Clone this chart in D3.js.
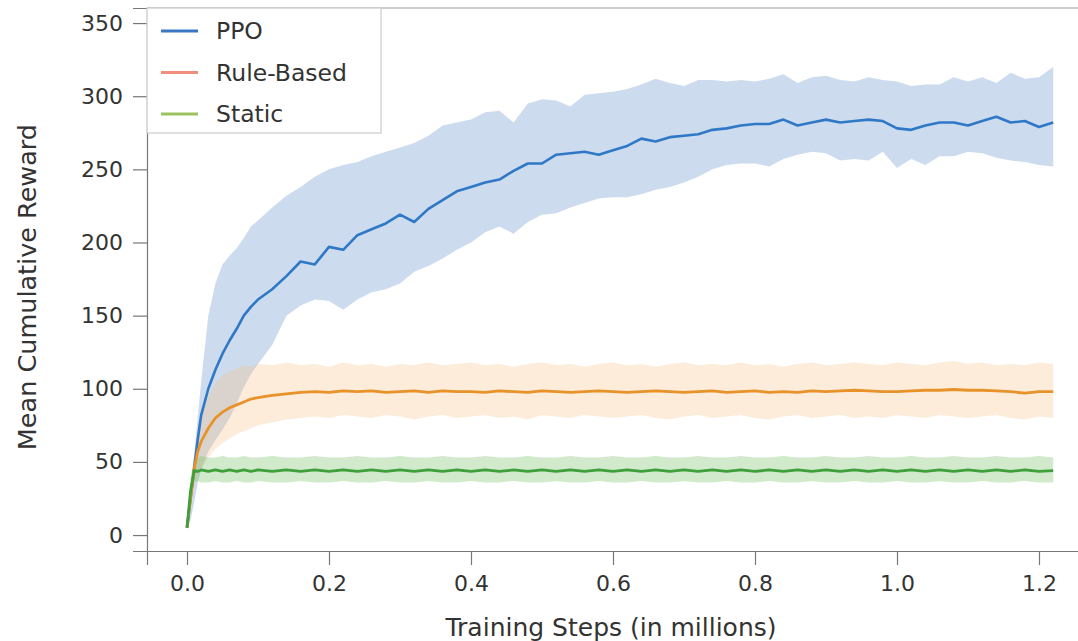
<!DOCTYPE html>
<html>
<head>
<meta charset="utf-8">
<script src="https://cdn.jsdelivr.net/npm/d3@7"></script>
<style>
  body { margin: 0; background: #fff; }
  svg { display: block; font-family: "DejaVu Sans", sans-serif; }
</style>
</head>
<body>
<svg id="chart" width="1078" height="641"></svg>
<script>
// training steps (millions)
const steps = [0, 0.005, 0.01, 0.015, 0.02, 0.03, 0.04, 0.05, 0.06, 0.07, 0.08, 0.09, 0.10,
  0.12, 0.14, 0.16, 0.18, 0.20, 0.22, 0.24, 0.26, 0.28, 0.30, 0.32, 0.34, 0.36, 0.38, 0.40,
  0.42, 0.44, 0.46, 0.48, 0.50, 0.52, 0.54, 0.56, 0.58, 0.60, 0.62, 0.64, 0.66, 0.68, 0.70,
  0.72, 0.74, 0.76, 0.78, 0.80, 0.82, 0.84, 0.86, 0.88, 0.90, 0.92, 0.94, 0.96, 0.98, 1.00,
  1.02, 1.04, 1.06, 1.08, 1.10, 1.12, 1.14, 1.16, 1.18, 1.20, 1.22];

const ppoMean = [5, 25, 45, 65, 82, 100, 113, 124, 133, 141, 150, 156, 161,
  168, 177, 187, 185, 197, 195, 205, 209, 213, 219, 214, 223, 229, 235, 238,
  241, 243, 249, 254, 254, 260, 261, 262, 260, 263, 266, 271, 269, 272, 273,
  274, 277, 278, 280, 281, 281, 284, 280, 282, 284, 282, 283, 284, 283, 278,
  277, 280, 282, 282, 280, 283, 286, 282, 283, 279, 282];
const ppoHigh = [6, 30, 55, 80, 105, 150, 172, 185, 191, 196, 203, 211, 215,
  224, 232, 238, 245, 250, 253, 255, 259, 262, 265, 268, 273, 280, 282, 284,
  289, 290, 282, 295, 298, 297, 293, 301, 302, 303, 305, 308, 312, 309, 307,
  311, 311, 310, 311, 310, 312, 315, 309, 313, 314, 311, 310, 313, 311, 310,
  307, 308, 308, 313, 310, 313, 309, 316, 312, 313, 320];
const ppoLow = [4, 10, 22, 35, 45, 57, 65, 72, 80, 90, 101, 110, 117,
  130, 150, 157, 161, 160, 154, 161, 166, 168, 172, 180, 184, 189, 195, 200,
  207, 211, 206, 214, 219, 220, 224, 227, 230, 231, 231, 233, 236, 238, 241,
  245, 250, 253, 254, 254, 252, 257, 260, 262, 261, 256, 257, 256, 262, 251,
  257, 253, 259, 259, 262, 261, 258, 256, 255, 253, 252];

const ruleMean = [5, 25, 45, 57, 64, 73, 80, 84, 87, 89, 91, 93, 94,
  95.5, 96.5, 97.5, 98, 97.5, 98.5, 98, 98.5, 97.5, 98, 98.5, 97.5, 98.5, 98, 98,
  97.5, 98.5, 98, 97.5, 98.5, 98, 97.5, 98, 98.5, 98, 97.5, 98, 98.5, 98, 97.5,
  98, 98.5, 97.5, 98, 98.5, 97.5, 98, 97.5, 98.5, 98, 98.5, 99, 98.5, 98, 98,
  98.5, 99, 99, 99.5, 99, 99, 98.5, 98, 97, 98, 98];
const ruleHigh = [6, 30, 55, 70, 82, 95, 104, 109, 112, 114, 116, 115, 117,
  116, 118, 116, 117, 115, 118, 116, 117, 115, 117, 116, 118, 116, 117, 118,
  116, 117, 115, 117, 118, 116, 117, 115, 117, 118, 116, 117, 115, 117, 118,
  116, 117, 116, 118, 116, 117, 115, 117, 118, 116, 117, 118, 117, 116, 118,
  117, 116, 118, 119, 117, 118, 116, 117, 116, 118, 117];
const ruleLow = [4, 18, 32, 40, 45, 53, 59, 63, 66, 69, 71, 73, 75,
  77, 79, 80, 81, 80, 82, 81, 80, 82, 81, 79, 81, 82, 80, 81,
  82, 80, 81, 79, 82, 81, 80, 82, 81, 80, 81, 82, 80, 79, 81,
  82, 80, 81, 82, 80, 79, 81, 82, 80, 81, 82, 80, 81, 80, 82,
  81, 80, 82, 81, 80, 81, 82, 80, 79, 81, 80];

const staticMean = [5, 30, 44, 43.5, 44.5, 43.5, 44.5, 43.5, 44.5, 43.5, 44.5, 43.5, 44.5,
  43.5, 44.5, 43.5, 44.5, 43.5, 44.5, 43.5, 44.5, 43.5, 44.5, 43.5, 44.5, 43.5, 44.5, 43.5,
  44.5, 43.5, 44.5, 43.5, 44.5, 43.5, 44.5, 43.5, 44.5, 43.5, 44.5, 43.5, 44.5, 43.5, 44.5,
  43.5, 44.5, 43.5, 44.5, 43.5, 44.5, 43.5, 44.5, 43.5, 44.5, 43.5, 44.5, 43.5, 44.5, 43.5,
  44.5, 43.5, 44.5, 43.5, 44.5, 43.5, 44.5, 43.5, 44.5, 43.5, 44];
const staticHigh = [6, 40, 53, 53, 54, 53, 53, 54, 53, 53, 54, 53, 53,
  54, 53, 53, 54, 53, 53, 54, 53, 53, 54, 53, 53, 54, 53, 53,
  54, 53, 53, 54, 53, 53, 54, 53, 53, 54, 53, 53, 54, 53, 53,
  54, 53, 53, 54, 53, 53, 54, 53, 53, 54, 53, 53, 54, 53, 53,
  54, 53, 53, 54, 53, 53, 54, 53, 53, 54, 53];
const staticLow = [4, 22, 36, 37, 36, 36, 37, 36, 36, 37, 36, 36, 37,
  36, 36, 37, 36, 36, 37, 36, 36, 37, 36, 36, 37, 36, 36, 37,
  36, 36, 37, 36, 36, 37, 36, 36, 37, 36, 36, 37, 36, 36, 37,
  36, 36, 37, 36, 36, 37, 36, 36, 37, 36, 36, 37, 36, 36, 37,
  36, 36, 37, 36, 36, 37, 36, 36, 37, 36, 36];

const xTicks = [0, 0.2, 0.4, 0.6, 0.8, 1.0, 1.2];
const yTicks = [0, 50, 100, 150, 200, 250, 300, 350];

const series = [
  { name: "PPO", mean: ppoMean, low: ppoLow, high: ppoHigh, line: "#2f78c6", width: 2.6, band: "#8fb0d9", bandOp: 0.45, legend: "#3b78c4" },
  { name: "Rule-Based", mean: ruleMean, low: ruleLow, high: ruleHigh, line: "#e8922a", width: 2.8, band: "#f9c48a", bandOp: 0.32, legend: "#f08e7e" },
  { name: "Static", mean: staticMean, low: staticLow, high: staticHigh, line: "#3f9f3a", width: 2.8, band: "#7cc46e", bandOp: 0.36, legend: "#9cc25f" }
];

const svg = d3.select("#chart");
const plotLeft = 147, plotTop = 8, plotBottom = 551, plotRight = 1093;

const x = d3.scaleLinear().domain([-0.05634, 1.27606]).range([plotLeft, plotRight]);
const y = d3.scaleLinear().domain([-10.9, 360.3]).range([plotBottom, plotTop]);

const plot = svg.append("g");

// bands
series.forEach(s => {
  const area = d3.area()
    .x((d, i) => x(steps[i]))
    .y0((d, i) => y(s.low[i]))
    .y1((d, i) => y(s.high[i]));
  plot.append("path")
    .attr("d", area(steps))
    .attr("fill", s.band)
    .attr("fill-opacity", s.bandOp)
    .attr("stroke", "none");
});

// mean lines
series.forEach(s => {
  const line = d3.line()
    .x((d, i) => x(steps[i]))
    .y((d, i) => y(s.mean[i]));
  plot.append("path")
    .attr("d", line(steps))
    .attr("fill", "none")
    .attr("stroke", s.line)
    .attr("stroke-width", s.width)
    .attr("stroke-linejoin", "round");
});

// axes
const xAxis = svg.append("g")
  .attr("transform", `translate(0,${plotBottom})`)
  .call(d3.axisBottom(x).tickValues(xTicks).tickFormat(d3.format(".1f")).tickSize(14).tickPadding(10));
const yAxis = svg.append("g")
  .attr("transform", `translate(${plotLeft},0)`)
  .call(d3.axisLeft(y).tickValues(yTicks).tickSize(14).tickPadding(10));

[xAxis, yAxis].forEach(g => {
  g.select(".domain").attr("stroke", "#777").attr("stroke-width", 1.2);
  g.selectAll(".tick line").attr("stroke", "#777").attr("stroke-width", 1.2);
  g.selectAll(".tick text").attr("fill", "#333").style("font-size", "22px").style("font-family", "DejaVu Sans");
});

// top spine
svg.append("line")
  .attr("x1", plotLeft).attr("x2", plotRight)
  .attr("y1", plotTop).attr("y2", plotTop)
  .attr("stroke", "#999").attr("stroke-width", 1.2);

// axis titles
svg.append("text")
  .attr("x", 611)
  .attr("y", 636)
  .attr("text-anchor", "middle")
  .attr("fill", "#333")
  .style("font-size", "25px")
  .text("Training Steps (in millions)");

svg.append("text")
  .attr("transform", `translate(36,${(y(0) + y(350)) / 2 + 8}) rotate(-90)`)
  .attr("text-anchor", "middle")
  .attr("fill", "#333")
  .style("font-size", "25.5px")
  .text("Mean Cumulative Reward");

// legend
const legend = svg.append("g");
legend.append("rect")
  .attr("x", plotLeft).attr("y", plotTop)
  .attr("width", 234).attr("height", 125)
  .attr("fill", "#fff").attr("fill-opacity", 0.92)
  .attr("stroke", "#ccc").attr("stroke-width", 1.2);

series.forEach((s, i) => {
  const ly = 31 + i * 41.5;
  legend.append("line")
    .attr("x1", 161).attr("x2", 198)
    .attr("y1", ly).attr("y2", ly)
    .attr("stroke", s.legend).attr("stroke-width", 3);
  legend.append("text")
    .attr("x", 216).attr("y", ly)
    .attr("dy", "0.36em")
    .attr("fill", "#333")
    .style("font-size", "23.5px")
    .text(s.name);
});
</script>
</body>
</html>
